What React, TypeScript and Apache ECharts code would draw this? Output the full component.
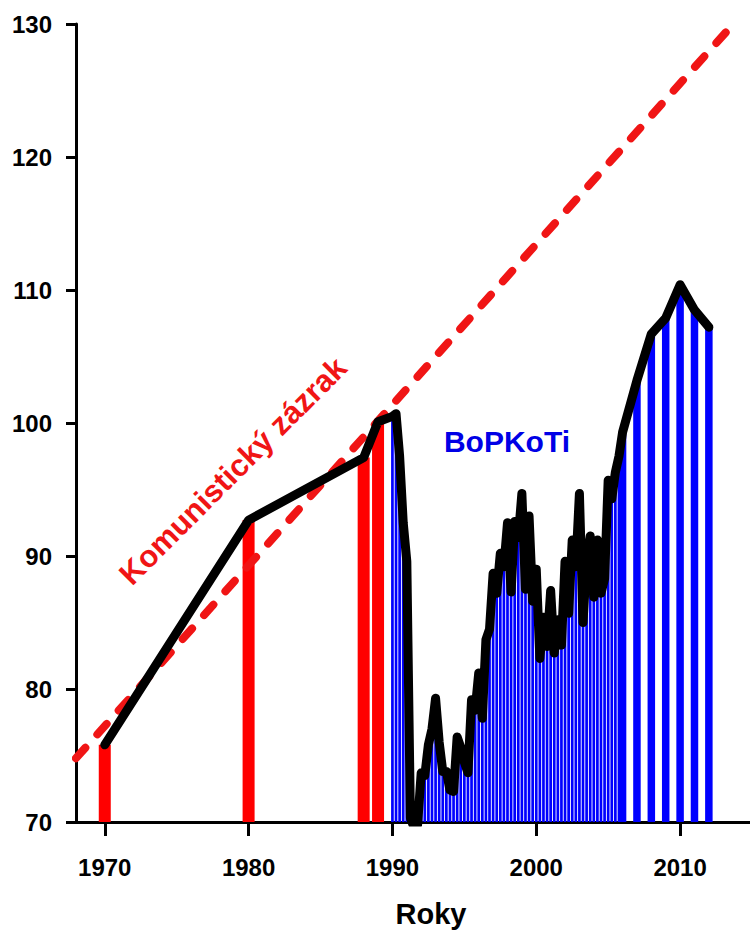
import React, { useEffect, useRef } from "react";
import * as echarts from "echarts";

// ---- data ----
const tickYears = [1970, 1980, 1990, 2000, 2010];
const yTicks = [70, 80, 90, 100, 110, 120, 130];

// communist era (red bars)
const redYears = [1970, 1980, 1988, 1989];
const redValues = [75.8, 92.7, 97.4, 100.1];

// quarterly 1990 Q1 .. 2005 Q4 (blue thin bars)
const quarterStartYear = 1990;
const quarterlyValues = [
  100.5, 100.7, 97.5, 92.5,
  89.6, 70.3, 69.6, 69.8,
  73.7, 73.5, 75.8, 77.0,
  79.3, 76.0, 73.8, 73.8,
  72.4, 72.3, 76.4, 75.6,
  74.5, 73.7, 79.2, 78.4,
  81.2, 77.8, 83.7, 84.5,
  88.7, 87.2, 90.2, 89.2,
  92.5, 87.3, 92.6, 91.4,
  94.7, 87.5, 93.0, 86.6,
  89.0, 82.3, 85.4, 83.2,
  87.4, 82.7, 85.2, 83.3,
  89.6, 85.7, 91.2, 89.2,
  94.7, 85.0, 89.7, 91.5,
  86.9, 91.2, 87.2, 88.3,
  95.7, 94.3, 96.3, 97.5,
];

// annual 2006 .. 2012 (blue wide bars)
const annualYears = [2006, 2007, 2008, 2009, 2010, 2011, 2012];
const annualValues = [99.3, 103.2, 106.7, 107.9, 110.4, 108.5, 107.2];

// "Komunistický zázrak" trend line
const trendYears = [1968, 2013.7];
const trendValues = [74.8, 130];

const X_MIN = 1968;
const X_MAX = 2014.86;
const FONT = "'Liberation Sans', Arial, Helvetica, sans-serif";

export default function App() {
  const ref = useRef<HTMLDivElement>(null);

  useEffect(() => {
    if (!ref.current) return;
    const chart = echarts.init(ref.current, undefined, { renderer: "svg" });

    const quarterly = quarterlyValues.map((v, i) => [quarterStartYear + i / 4, v]);
    const red = redYears.map((y, i) => [y, redValues[i]]);
    const annual = annualYears.map((y, i) => [y, annualValues[i]]);
    const lineData = [...red, ...quarterly, ...annual];
    const trend = trendYears.map((y, i) => [y, trendValues[i]]);

    const hiddenX = () => ({
      type: "value",
      gridIndex: 0,
      min: X_MIN,
      max: X_MAX,
      show: false,
    });

    chart.setOption({
      animation: false,
      backgroundColor: "#ffffff",
      grid: { left: 76, right: 0, top: 24, bottom: 108, containLabel: false },
      xAxis: [
        {
          type: "value",
          min: X_MIN,
          max: X_MAX,
          splitLine: { show: false },
          axisLine: { show: true, onZero: false, lineStyle: { color: "#000", width: 3 } },
          axisTick: {
            show: true,
            customValues: tickYears,
            length: 14,
            lineStyle: { color: "#000", width: 3 },
          },
          axisLabel: {
            customValues: tickYears,
            formatter: (v: number) => String(v),
            color: "#000",
            fontSize: 24,
            fontWeight: "bold",
            fontFamily: FONT,
            margin: 33,
          },
        },
        hiddenX(),
        hiddenX(),
      ],
      yAxis: {
        type: "value",
        min: 70,
        max: 130,
        interval: 10,
        splitLine: { show: false },
        axisLine: { show: true, onZero: false, lineStyle: { color: "#000", width: 3 } },
        axisTick: { show: true, length: 10, lineStyle: { color: "#000", width: 3 } },
        axisLabel: {
          color: "#000",
          fontSize: 24,
          fontWeight: "bold",
          fontFamily: FONT,
          margin: 24,
          customValues: yTicks,
          formatter: (v: number) => String(v),
        },
      },
      series: [
        {
          type: "bar",
          xAxisIndex: 0,
          data: red,
          barWidth: 12,
          itemStyle: { color: "#ff0000" },
          clip: true,
          z: 2,
        },
        {
          type: "bar",
          xAxisIndex: 1,
          data: quarterly,
          barWidth: 2.7,
          itemStyle: { color: "#0000ff" },
          clip: true,
          z: 2,
        },
        {
          type: "bar",
          xAxisIndex: 2,
          data: annual,
          barWidth: 7.5,
          itemStyle: { color: "#0000ff" },
          clip: true,
          z: 2,
        },
        {
          type: "line",
          xAxisIndex: 0,
          data: trend,
          showSymbol: false,
          symbol: "none",
          clip: false,
          lineStyle: { color: "#f01515", width: 8, type: [14, 18], cap: "round" },
          z: 3,
        },
        {
          type: "line",
          xAxisIndex: 0,
          data: lineData,
          showSymbol: false,
          symbol: "none",
          clip: true,
          lineStyle: { color: "#000", width: 9, join: "round", cap: "round" },
          z: 4,
        },
      ],
      graphic: [
        {
          type: "text",
          x: 233,
          y: 471,
          rotation: (45 * Math.PI) / 180,
          z: 10,
          style: {
            text: "Komunistický zázrak",
            fill: "#f01515",
            font: `bold 31px ${FONT}`,
            textAlign: "center",
            textVerticalAlign: "middle",
          },
        },
        {
          type: "text",
          x: 507,
          y: 441,
          z: 10,
          style: {
            text: "BoPKoTi",
            fill: "#0000e6",
            font: `bold 30px ${FONT}`,
            textAlign: "center",
            textVerticalAlign: "middle",
          },
        },
        {
          type: "text",
          x: 431,
          y: 914,
          z: 10,
          style: {
            text: "Roky",
            fill: "#000",
            font: `bold 29px ${FONT}`,
            textAlign: "center",
            textVerticalAlign: "middle",
          },
        },
      ],
    });

    return () => chart.dispose();
  }, []);

  return (
    <div
      ref={ref}
      style={{ position: "absolute", left: 0, top: 0, width: 750, height: 930 }}
    />
  );
}
